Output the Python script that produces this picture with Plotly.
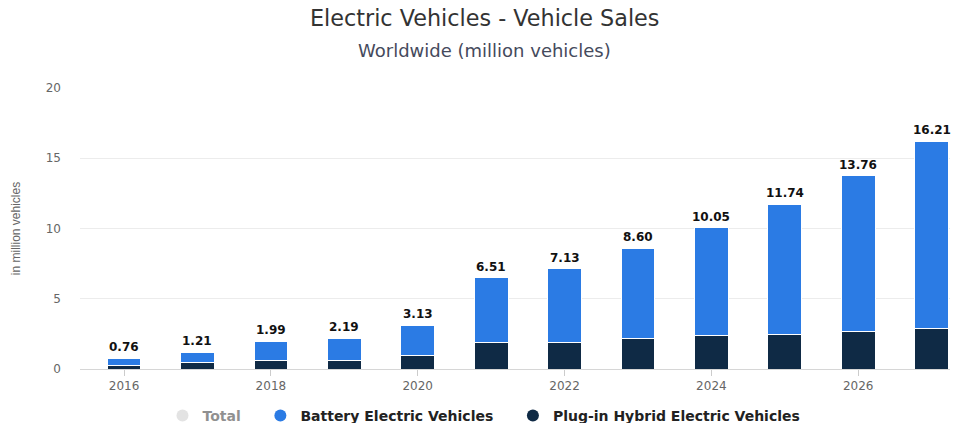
import plotly.graph_objects as go

years = [2016, 2017, 2018, 2019, 2020, 2021, 2022, 2023, 2024, 2025, 2026, 2027]
totals = [0.76, 1.21, 1.99, 2.19, 3.13, 6.51, 7.13, 8.60, 10.05, 11.74, 13.76, 16.21]
phev = [0.28, 0.48, 0.64, 0.57, 0.93, 1.87, 1.87, 2.19, 2.35, 2.49, 2.66, 2.90]
bev = [round(t - p, 2) for t, p in zip(totals, phev)]
total_labels = [f"{t:.2f}" for t in totals]

BLUE = "#2b7be4"
DARK = "#0f2a45"
FONT = "DejaVu Sans, Verdana, sans-serif"
PAD = "\u00a0\u00a0\u00a0"

W, H = 968, 423
ML, MR, MT, MB = 80, 18, 88, 54
PW, PH = W - ML - MR, H - MT - MB


def px_to_paper(px, py):
    return (px - ML) / PW, (H - MB - py) / PH


fig = go.Figure()
fig.add_trace(go.Bar(x=years, y=phev, name="Plug-in Hybrid Electric Vehicles",
                     marker=dict(color=DARK, line=dict(color="white", width=1)),
                     showlegend=False))
fig.add_trace(go.Bar(x=years, y=bev, name="Battery Electric Vehicles",
                     marker=dict(color=BLUE, line=dict(color="white", width=1)),
                     showlegend=False))
# legend entries
fig.add_trace(go.Scatter(x=[None], y=[None], mode="markers", name="Total" + PAD,
                         marker=dict(symbol="circle", size=14, color="#c8c8c8"),
                         visible="legendonly"))
fig.add_trace(go.Scatter(x=[None], y=[None], mode="markers", name="Battery Electric Vehicles" + PAD,
                         marker=dict(symbol="circle", size=14, color=BLUE)))
fig.add_trace(go.Scatter(x=[None], y=[None], mode="markers", name="Plug-in Hybrid Electric Vehicles",
                         marker=dict(symbol="circle", size=14, color=DARK)))

tx, ty = px_to_paper(W / 2, 18)
sx, sy = px_to_paper(W / 2, 50)
annotations = [
    dict(text="Electric Vehicles - Vehicle Sales", x=tx, y=ty, xref="paper", yref="paper",
         xanchor="center", yanchor="middle", showarrow=False,
         font=dict(family=FONT, size=22.3, color="#333333")),
    dict(text="Worldwide (million vehicles)", x=sx, y=sy, xref="paper", yref="paper",
         xanchor="center", yanchor="middle", showarrow=False,
         font=dict(family=FONT, size=18, color="#454a5c")),
]
for yr, t, lab in zip(years, totals, total_labels):
    annotations.append(dict(text=lab, x=yr, y=t, xref="x", yref="y", xanchor="center",
                            yanchor="bottom", yshift=2, showarrow=False,
                            font=dict(family=FONT, size=12, color="#111111", weight="bold")))

fig.update_layout(
    width=W, height=H,
    barmode="stack", bargap=0.54,
    paper_bgcolor="white", plot_bgcolor="white",
    margin=dict(l=ML, r=MR, t=MT, b=MB, autoexpand=False),
    font=dict(family=FONT, color="#333333"),
    showlegend=True,
    legend=dict(orientation="h", x=0.5, xanchor="center", xref="container",
                y=7 / H, yanchor="middle", yref="container",
                font=dict(family=FONT, size=14, color="#222222", weight="bold"),
                itemsizing="constant", traceorder="normal"),
    annotations=annotations,
)

fig.update_xaxes(range=[2015.4, 2027.25], tickmode="array",
                 tickvals=[2016, 2018, 2020, 2022, 2024, 2026],
                 ticks="outside", ticklen=6, tickcolor="#cccccc",
                 showline=True, linecolor="#d6d6d6", showgrid=False, zeroline=False,
                 tickfont=dict(family=FONT, size=12, color="#666666"))
fig.update_yaxes(range=[0, 20], tickvals=[0, 5, 10, 15, 20],
                 showgrid=True, gridcolor="#ececec", zeroline=False,
                 tickfont=dict(family=FONT, size=12, color="#666666"),
                 ticklabelstandoff=18,
                 title=dict(text="in million vehicles", standoff=22,
                            font=dict(family="Liberation Sans Narrow, Liberation Sans, Arial", size=12, color="#666666")))

fig.write_html("out.html")
